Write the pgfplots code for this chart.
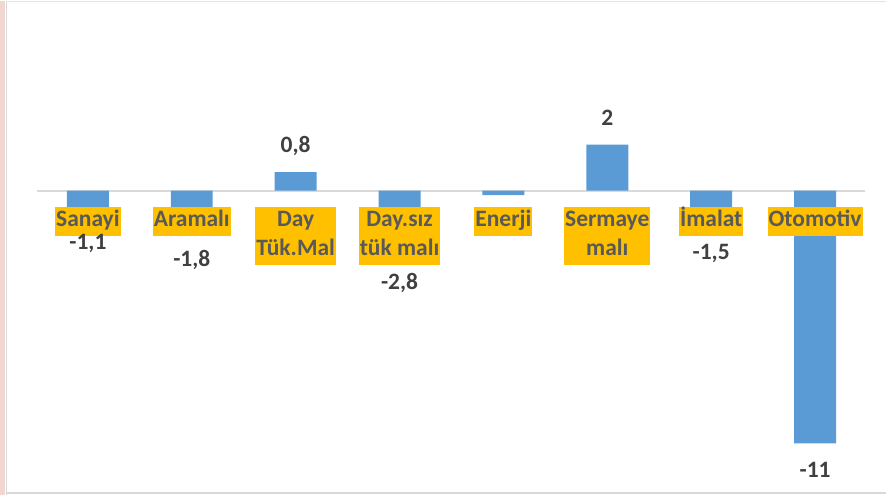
\documentclass[border=0pt]{standalone}
\usepackage{fontspec}
\setmainfont{Carlito}
\usepackage{pgfplots}
\pgfplotsset{compat=1.18}
\usepackage{pgfplotstable}
\definecolor{barblue}{HTML}{5B9BD5}
\definecolor{lblbox}{HTML}{FFC000}
\definecolor{txtgray}{HTML}{595959}
\definecolor{valgray}{HTML}{404040}
\definecolor{zerogray}{HTML}{D9D9D9}
\definecolor{pinkedge}{HTML}{F2D6D2}

\pgfplotstableread{
x y lab
1 -1.1 {-1,1}
2 -1.8 {-1,8}
3 0.8 {0,8}
4 -2.8 {-2,8}
5 -0.2 {}
6 2 {2}
7 -1.5 {-1,5}
8 -11 {-11}
}\datatable

\begin{document}
\begin{tikzpicture}
\begin{axis}[
  scale only axis, width=887pt, height=495pt,
  xmin=0.154, xmax=8.683, ymin=-13.26, ymax=8.26,
  axis x line=middle, x axis line style={draw=none},
  hide y axis,
  hide obscured x ticks=false,
  axis on top,
  ybar, bar width=42pt,
  xtick={1,...,8}, major tick length=0pt,
  xticklabels={{\strut Sanayi},{\strut Aramalı},{\strut Day\\\strut Tük.Mal},{\strut Day.sız\\\strut tük malı},{\strut Enerji},{\strut Sermaye\\\strut malı},{\strut İmalat},{\strut Otomotiv}},
  xticklabel style={fill=lblbox, text=txtgray, font=\fontsize{23.5}{29}\selectfont\bfseries, align=center, inner xsep=1pt, inner ysep=0pt, anchor=north, yshift=-16pt},
  nodes near coords, point meta=explicit symbolic,
  visualization depends on={rawy \as \rawy},
  every node near coord/.append style={font=\fontsize{23.5}{29}\selectfont\bfseries, text=valgray, inner xsep=0pt, inner ysep=19pt, text height=15pt, text depth=0pt},
  every node near coord/.append code={\ifdim\rawy pt<0pt\pgfkeysalso{anchor=north}\else\pgfkeysalso{anchor=south}\fi},
  clip=false,
]
\draw[zerogray, line width=2pt] (axis cs:0.51,0) -- (axis cs:8.48,0);
\addplot[fill=barblue, draw=none] table[x=x, y=y, meta=lab] {\datatable};
\fill[pinkedge] (rel axis cs:0,0) rectangle ([xshift=5.5pt]rel axis cs:0,1);
\draw[zerogray, line width=1.5pt] ([xshift=6.5pt]rel axis cs:0,0) -- ([xshift=6.5pt]rel axis cs:0,1);
\draw[zerogray!70, line width=1pt] ([xshift=6pt,yshift=-0.5pt]rel axis cs:0,1) -- ([yshift=-0.5pt]rel axis cs:1,1);
\draw[zerogray, line width=2pt] ([xshift=6pt,yshift=2pt]rel axis cs:0,0) -- ([yshift=2pt]rel axis cs:1,0);
\end{axis}
\end{tikzpicture}
\end{document}
